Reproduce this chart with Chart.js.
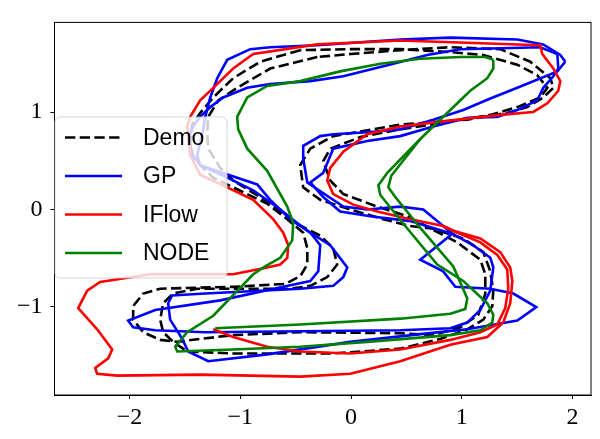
<!DOCTYPE html>
<html>
<head>
<meta charset="utf-8">
<script src="https://cdn.jsdelivr.net/npm/chart.js@4.4.1/dist/chart.umd.min.js"></script>
<style>
  html, body { margin: 0; padding: 0; background: #fff; }
  #wrap { width: 600px; height: 439px; position: relative; }
</style>
</head>
<body>
<div id="wrap"><canvas id="chart"></canvas></div>
<script>
(() => {
    const xTicks = [-2, -1, 0, 1, 2];
    const yTicks = [-1, 0, 1];
    const names = ["Demo", "GP", "IFlow", "NODE"];

    // Demo (two demonstrations)
    const demoAX = [-0.459, -0.820, -1.064, -1.244, -1.362, -1.434, -1.452, -1.425, -1.244, -1.064, -0.757, -0.576, -0.432, -0.395, -0.395, -0.459, -0.594, -1.064, -1.723, -1.876, -1.967, -1.967, -1.876, -1.723, -1.569, -1.362, -1.064, -0.459, 0.444, 0.742, 0.986, 1.149, 1.212, 1.212, 1.167, 0.959, 0.507, 0.237, -0.070, -0.188, -0.251, -0.188, 0.083, 0.444, 0.896, 1.257, 1.501, 1.708, 1.772, 1.681, 1.501, 1.194, 0.896, 0.444, -0.007, -0.459];
    const demoAY = [1.637, 1.518, 1.349, 1.151, 0.992, 0.873, 0.694, 0.526, 0.327, 0.228, 0.060, -0.099, -0.238, -0.397, -0.565, -0.685, -0.764, -0.794, -0.813, -0.863, -0.992, -1.131, -1.260, -1.339, -1.359, -1.329, -1.290, -1.260, -1.270, -1.290, -1.210, -1.081, -0.863, -0.665, -0.516, -0.337, -0.069, 0.030, 0.159, 0.298, 0.496, 0.625, 0.744, 0.823, 0.903, 0.972, 1.052, 1.151, 1.250, 1.379, 1.488, 1.587, 1.617, 1.647, 1.647, 1.637];
    const demoBX = [-0.305, -0.730, -1.028, -1.199, -1.289, -1.298, -1.289, -1.181, -1.064, -0.793, -0.486, -0.278, -0.161, -0.125, -0.215, -0.368, -0.549, -1.389, -1.606, -1.696, -1.723, -1.696, -1.606, -1.479, -1.064, -0.161, 0.444, 0.805, 1.049, 1.194, 1.275, 1.284, 1.257, 1.194, 1.013, 0.742, 0.535, 0.291, -0.007, -0.278, -0.432, -0.459, -0.368, -0.161, 0.444, 1.049, 1.410, 1.591, 1.735, 1.826, 1.799, 1.618, 1.347, 0.896, 0.444, -0.007, -0.305];
    const demoBY = [1.567, 1.448, 1.250, 1.121, 0.952, 0.794, 0.625, 0.427, 0.298, 0.109, -0.149, -0.268, -0.397, -0.565, -0.694, -0.784, -0.813, -0.813, -0.863, -0.962, -1.131, -1.260, -1.359, -1.458, -1.478, -1.478, -1.429, -1.329, -1.230, -1.131, -0.992, -0.833, -0.635, -0.437, -0.298, -0.198, -0.169, -0.099, 0.000, 0.099, 0.228, 0.456, 0.625, 0.754, 0.873, 0.923, 0.992, 1.052, 1.151, 1.250, 1.349, 1.518, 1.647, 1.667, 1.637, 1.597, 1.567];

    // GP
    const gpAX = [1.934, 1.889, 1.735, 1.501, 0.896, 0.444, -0.305, -0.730, -0.910, -1.118, -1.208, -1.271, -1.316, -1.334, -1.389, -1.362, -1.109, -0.847, -0.730, -0.549, -0.368, -0.278, -0.296, -0.368, -0.612, -1.181, -1.768, -2.012, -1.967, -1.768, -1.316, -0.459, 0.444, 0.896, 1.049, 1.167, 1.257, 1.284, 1.257, 1.103, 0.914, 0.832, 0.652, 0.444, 0.146, -0.070, -0.395, -0.432, -0.432, -0.278, -0.161, 0.146, 0.444, 0.742, 1.013, 1.257, 1.501, 1.862, 1.934];
    const gpAY = [1.518, 1.587, 1.696, 1.746, 1.766, 1.746, 1.687, 1.667, 1.647, 1.538, 1.349, 1.151, 0.952, 0.823, 0.556, 0.456, 0.357, 0.258, 0.099, -0.099, -0.238, -0.367, -0.635, -0.734, -0.794, -0.933, -1.032, -1.141, -1.210, -1.240, -1.260, -1.250, -1.240, -1.220, -1.161, -1.032, -0.833, -0.595, -0.496, -0.367, -0.248, -0.169, 0.000, 0.030, 0.000, 0.030, 0.278, 0.526, 0.655, 0.754, 0.774, 0.794, 0.823, 0.923, 1.022, 1.141, 1.250, 1.419, 1.518];
    const gpBX = [1.871, 1.862, 1.708, 0.986, 0.688, 0.381, -0.070, -0.368, -0.730, -0.937, -1.154, -1.271, -1.362, -1.425, -1.470, -1.425, -1.362, -1.118, -0.883, -0.639, -0.486, -0.368, -0.188, -0.034, -0.070, -0.161, -0.459, -1.316, -1.615, -1.651, -1.633, -1.524, -1.470, -1.289, -0.757, -0.007, 0.625, 1.049, 1.501, 1.672, 1.465, 1.257, 0.941, 0.832, 0.625, 0.914, 0.535, 0.173, -0.098, -0.251, -0.368, -0.251, -0.161, 0.146, 0.444, 0.742, 1.049, 1.320, 1.501, 1.681, 1.735, 1.826, 1.871];
    const gpBY = [1.448, 1.597, 1.667, 1.647, 1.587, 1.498, 1.369, 1.319, 1.290, 1.250, 1.151, 1.052, 0.952, 0.853, 0.724, 0.556, 0.456, 0.327, 0.198, 0.000, -0.139, -0.238, -0.367, -0.595, -0.694, -0.784, -0.813, -0.863, -0.883, -0.962, -1.131, -1.329, -1.458, -1.558, -1.488, -1.359, -1.280, -1.230, -1.141, -1.002, -0.863, -0.813, -0.794, -0.635, -0.516, -0.248, -0.119, -0.069, -0.020, 0.129, 0.278, 0.377, 0.625, 0.704, 0.754, 0.853, 0.942, 0.952, 1.022, 1.121, 1.250, 1.369, 1.448];

    // IFlow
    const iflowAX = [-0.305, -0.883, -1.064, -1.244, -1.362, -1.452, -1.479, -1.452, -1.362, -1.118, -0.883, -0.703, -0.612, -0.567, -0.576, -0.639, -0.757, -1.064, -1.813, -2.265, -2.382, -2.463, -2.292, -2.156, -2.192, -2.310, -2.292, -2.111, -1.362, -0.459, -0.007, 0.444, 0.896, 1.230, 1.374, 1.437, 1.456, 1.437, 1.347, 1.167, 0.923, 0.832, 0.535, 0.237, 0.020, -0.161, -0.215, -0.188, -0.070, 0.146, 0.444, 0.805, 1.347, 1.645, 1.772, 1.871, 1.889, 1.826, 1.726, 1.708, 0.444, -0.305];
    const iflowAY = [1.696, 1.597, 1.448, 1.250, 1.121, 0.952, 0.853, 0.556, 0.357, 0.228, 0.099, -0.099, -0.238, -0.367, -0.496, -0.565, -0.595, -0.665, -0.665, -0.744, -0.833, -1.012, -1.230, -1.438, -1.528, -1.627, -1.687, -1.706, -1.696, -1.716, -1.687, -1.558, -1.389, -1.310, -1.161, -0.962, -0.734, -0.595, -0.437, -0.298, -0.218, -0.169, -0.099, -0.020, 0.050, 0.159, 0.298, 0.427, 0.595, 0.774, 0.853, 0.903, 0.972, 1.002, 1.091, 1.220, 1.319, 1.448, 1.597, 1.687, 1.736, 1.696];
    const iflowBX = [-1.244, -1.064, -0.757, -0.459, -0.007, 0.444, 0.896, 1.167, 1.320, 1.392, 1.419, 1.410, 1.320, 1.167, 0.941, 0.832];
    const iflowBY = [-1.230, -1.310, -1.409, -1.458, -1.478, -1.438, -1.339, -1.260, -1.181, -1.012, -0.813, -0.615, -0.466, -0.337, -0.228, -0.169];

    // NODE
    const nodeAX = [1.284, 1.212, 0.986, 0.625, 0.264, -0.098, -0.459, -0.757, -0.937, -1.028, -1.019, -0.937, -0.757, -0.576, -0.522, -0.531, -0.639, -0.775, -0.883, -1.244, -1.479, -1.587, -1.569, -1.064, -0.459, 0.146, 0.896, 1.167, 1.275, 1.284, 1.230, 1.013, 0.778, 0.489, 0.264, 0.246, 0.327, 0.625, 0.896, 1.076, 1.230, 1.284, 1.284];
    const nodeAY = [1.538, 1.567, 1.567, 1.548, 1.498, 1.419, 1.319, 1.270, 1.151, 0.952, 0.823, 0.625, 0.397, 0.030, -0.139, -0.317, -0.496, -0.585, -0.665, -1.091, -1.260, -1.409, -1.458, -1.438, -1.409, -1.359, -1.290, -1.240, -1.161, -1.081, -0.962, -0.734, -0.565, -0.169, 0.149, 0.248, 0.377, 0.724, 1.022, 1.220, 1.349, 1.448, 1.538];
    const nodeBX = [-1.226, -0.459, 0.444, 0.896, 1.031, 1.049, 0.923, 0.625, 0.399, 0.336, 0.363, 0.625];
    const nodeBY = [-1.220, -1.181, -1.121, -1.071, -1.022, -0.913, -0.585, -0.188, 0.129, 0.228, 0.347, 0.724];

    const zip = (xs, ys) => xs.map((x, i) => ({ x, y: ys[i] }));

    const styles = {
        Demo: { color: "#000000", dash: [10.3, 4.4], order: 3 },
        GP: { color: "#0000ff", dash: [], order: 2 },
        IFlow: { color: "#ff0000", dash: [], order: 1 },
        NODE: { color: "#008000", dash: [], order: 0 }
    };

    const series = [
        ["Demo", demoAX, demoAY], ["Demo", demoBX, demoBY],
        ["GP", gpAX, gpAY], ["GP", gpBX, gpBY],
        ["IFlow", iflowAX, iflowAY], ["IFlow", iflowBX, iflowBY],
        ["NODE", nodeAX, nodeAY], ["NODE", nodeBX, nodeBY]
    ];

    const datasets = series.map(([name, xs, ys]) => ({
        label: name,
        data: zip(xs, ys),
        showLine: true,
        borderColor: styles[name].color,
        borderWidth: 2.6,
        borderDash: styles[name].dash,
        pointRadius: 0,
        tension: 0,
        fill: false,
        order: styles[name].order
    }));

    const fmt = v => (v < 0 ? "\u2212" + Math.abs(v) : String(v));

    // box around plot + legend inside plot area
    const framePlugin = {
        id: "frame",
        afterDatasetsDraw(chart) {
            const { ctx, chartArea: a } = chart;
            ctx.save();
            ctx.strokeStyle = "#000";
            ctx.lineWidth = 1;
            ctx.strokeRect(a.left, a.top, a.right - a.left, a.bottom - a.top);

            const bx = 55, by = 117, bw = 172, bh = 161, r = 5;
            ctx.beginPath();
            ctx.moveTo(bx + r, by);
            ctx.arcTo(bx + bw, by, bx + bw, by + bh, r);
            ctx.arcTo(bx + bw, by + bh, bx, by + bh, r);
            ctx.arcTo(bx, by + bh, bx, by, r);
            ctx.arcTo(bx, by, bx + bw, by, r);
            ctx.closePath();
            ctx.fillStyle = "rgba(255,255,255,0.8)";
            ctx.fill();
            ctx.strokeStyle = "rgba(204,204,204,0.8)";
            ctx.stroke();

            ctx.font = "23px 'Liberation Sans', sans-serif";
            ctx.textBaseline = "middle";
            names.forEach((n, i) => {
                const cy = 137.5 + i * 38.5;
                ctx.beginPath();
                ctx.setLineDash(styles[n].dash);
                ctx.strokeStyle = styles[n].color;
                ctx.lineWidth = 2.6;
                ctx.moveTo(65, cy);
                ctx.lineTo(122, cy);
                ctx.stroke();
                ctx.setLineDash([]);
                ctx.fillStyle = "#000";
                ctx.fillText(n, 143, cy + 1);
            });
            ctx.restore();
        }
    };

    const tickFont = { family: "'Liberation Serif', serif", size: 24 };

    new Chart(document.getElementById("chart"), {
        type: "scatter",
        data: { datasets },
        options: {
            responsive: true,
            maintainAspectRatio: false,
            animation: false,
            layout: { padding: { left: 0, right: 9, top: 9, bottom: 0 } },
            plugins: { legend: { display: false }, tooltip: { enabled: false } },
            scales: {
                x: {
                    type: "linear",
                    min: -2.677,
                    max: 2.166,
                    afterBuildTicks: s => { s.ticks = xTicks.map(v => ({ value: v })); },
                    afterFit: s => { s.height = 44; },
                    grid: { display: true, drawOnChartArea: false, drawTicks: true, tickLength: 4, color: "#000" },
                    border: { display: true, color: "#000" },
                    ticks: { color: "#000", font: tickFont, padding: 4, maxRotation: 0, callback: v => fmt(v) }
                },
                y: {
                    type: "linear",
                    min: -1.905,
                    max: 1.922,
                    afterBuildTicks: s => { s.ticks = yTicks.map(v => ({ value: v })); },
                    afterFit: s => { s.width = 54.5; },
                    grid: { display: true, drawOnChartArea: false, drawTicks: true, tickLength: 4, color: "#000" },
                    border: { display: true, color: "#000" },
                    ticks: { color: "#000", font: tickFont, padding: 8, callback: v => fmt(v) }
                }
            }
        },
        plugins: [framePlugin]
    });
})();
</script>
</body>
</html>
